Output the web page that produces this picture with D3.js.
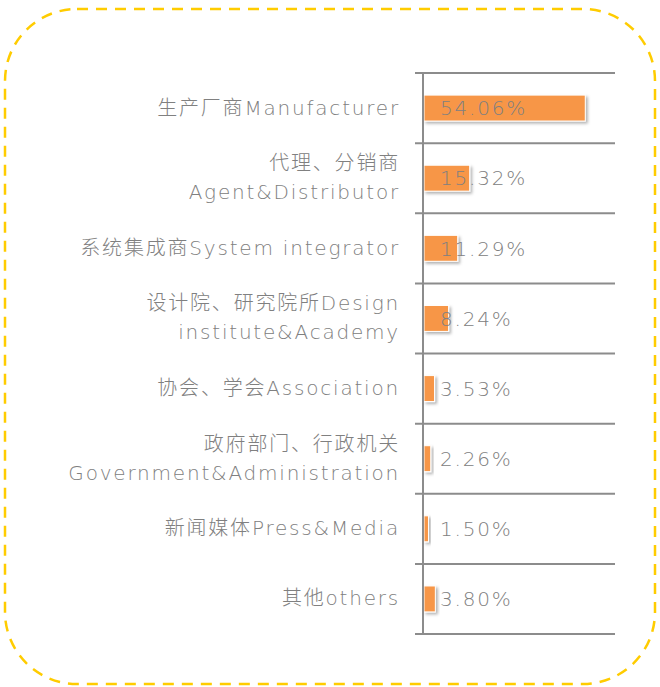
<!doctype html>
<html>
  <head>
    <meta charset="utf-8">
    <script src="https://cdn.jsdelivr.net/npm/d3@7/dist/d3.min.js"></script>
    <style>
      body { margin: 0; background: #fff; }
      text { font-family: "DejaVu Sans", "Noto Sans CJK SC", sans-serif; font-weight: 300; letter-spacing: 1.8px; }
    </style>
  </head>
  <body>
    <div id="chart"></div>
  </body>
  <script>
    var categories = [
      ["生产厂商Manufacturer"],
      ["代理、分销商", "Agent&Distributor"],
      ["系统集成商System integrator"],
      ["设计院、研究院所Design", "institute&Academy"],
      ["协会、学会Association"],
      ["政府部门、行政机关", "Government&Administration"],
      ["新闻媒体Press&Media"],
      ["其他others"]
    ];
    var values = [54.06, 15.32, 11.29, 8.24, 3.53, 2.26, 1.50, 3.80];
    var valueLabels = ["54.06%", "15.32%", "11.29%", "8.24%", "3.53%", "2.26%", "1.50%", "3.80%"];

    var width = 660, height = 687;
    var textColour = "#808080";

    var svg = d3.select("#chart").append("svg")
      .attr("width", width)
      .attr("height", height);

    var defs = svg.append("defs");
    var shadow = defs.append("filter").attr("id", "shadow")
      .attr("x", "-20%").attr("y", "-30%").attr("width", "160%").attr("height", "180%");
    shadow.append("feDropShadow")
      .attr("dx", 2).attr("dy", 2).attr("stdDeviation", 1.5)
      .attr("flood-color", "#000").attr("flood-opacity", 0.3);

    // dashed rounded frame
    svg.append("rect")
      .attr("x", 5).attr("y", 9)
      .attr("width", 650).attr("height", 675)
      .attr("rx", 72).attr("ry", 72)
      .attr("fill", "none")
      .attr("stroke", "#FFCC00")
      .attr("stroke-width", 2.5)
      .attr("stroke-dasharray", "11,8");

    var idx = d3.range(categories.length);

    var x = d3.scaleLinear().domain([0, 60]).range([424, 603]);
    var y = d3.scaleBand().domain(idx).range([73, 634])
      .paddingInner(0.63).paddingOuter(0.315);

    var step = y.step();
    var left = 424, right = 615;

    // gridlines between categories
    var gridYs = d3.range(categories.length + 1).map(function(i) { return 73 + i * step; });
    svg.append("g").selectAll("line")
      .data(gridYs)
      .enter().append("line")
      .attr("x1", left - 9).attr("x2", right)
      .attr("y1", function(d) { return d; })
      .attr("y2", function(d) { return d; })
      .attr("stroke", "#8c8c8c")
      .attr("stroke-width", 2);

    // bars
    svg.append("g").selectAll("rect")
      .data(values)
      .enter().append("rect")
      .attr("x", x(0))
      .attr("y", function(d, i) { return y(i); })
      .attr("width", function(d) { return x(d) - x(0); })
      .attr("height", y.bandwidth())
      .attr("fill", "#F79646")
      .attr("stroke", "#fff")
      .attr("stroke-width", 1)
      .attr("filter", "url(#shadow)");

    // vertical axis line
    svg.append("line")
      .attr("x1", left - 1).attr("x2", left - 1)
      .attr("y1", 73).attr("y2", 635)
      .attr("stroke", "#8c8c8c")
      .attr("stroke-width", 2);

    // value labels
    svg.append("g").selectAll("text")
      .data(valueLabels)
      .enter().append("text")
      .attr("x", 440)
      .attr("y", function(d, i) { return y(i) + y.bandwidth() / 2; })
      .attr("dy", "0.36em")
      .attr("font-size", 20)
      .attr("fill", textColour)
      .text(function(d) { return d; });

    // category labels
    var lineH = 29;
    var labels = svg.append("g").selectAll("text")
      .data(categories)
      .enter().append("text")
      .attr("text-anchor", "end")
      .attr("font-size", 20)
      .attr("fill", textColour)
      .attr("y", function(d, i) { return y(i) + y.bandwidth() / 2; });

    labels.selectAll("tspan")
      .data(function(d) {
        return d.map(function(t, j) { return { t: t, j: j, n: d.length }; });
      })
      .enter().append("tspan")
      .attr("x", 400)
      .attr("dy", function(d) {
        if (d.j === 0) return ((-(d.n - 1) * lineH / 2) + 6.5) + "px";
        return lineH + "px";
      })
      .text(function(d) { return d.t; });
  </script>
</html>
